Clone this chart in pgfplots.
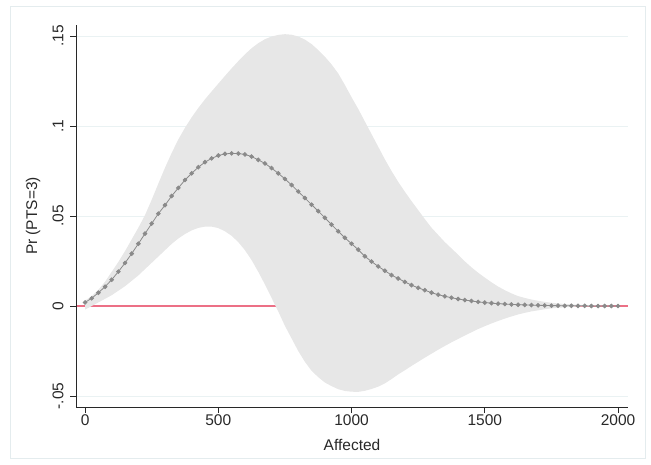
\documentclass[border=0pt]{standalone}
\usepackage{fontspec}
\setmainfont{Liberation Sans}
\usepackage{pgfplots}
\usepackage{pgfplotstable}
\pgfplotsset{compat=1.18}
\usepgfplotslibrary{fillbetween}

\definecolor{bandgray}{RGB}{231,231,231}
\definecolor{fitgray}{RGB}{138,138,138}
\definecolor{zeroline}{RGB}{236,112,134}
\definecolor{gridc}{RGB}{234,242,243}
\definecolor{framec}{RGB}{228,236,238}
\definecolor{axisc}{RGB}{40,40,40}

% x = affected, p = predicted Pr(PTS=3), lo/hi = confidence band
\pgfplotstableread{
x     p       lo       hi
0     0.0020  -0.0020  0.0030
25    0.0043  0.0000   0.0055
50    0.0074  0.0020   0.0090
75    0.0107  0.0040   0.0135
100   0.0146  0.0060   0.0190
125   0.0191  0.0085   0.0245
150   0.0239  0.0110   0.0305
175   0.0291  0.0140   0.0370
200   0.0346  0.0170   0.0435
225   0.0402  0.0205   0.0505
250   0.0458  0.0240   0.0590
275   0.0513  0.0275   0.0680
300   0.0560  0.0310   0.0768
325   0.0611  0.0345   0.0850
350   0.0656  0.0375   0.0925
375   0.0700  0.0400   0.0990
400   0.0737  0.0420   0.1048
425   0.0771  0.0434   0.1100
450   0.0799  0.0441   0.1148
475   0.0820  0.0441   0.1192
500   0.0836  0.0433   0.1235
525   0.0845  0.0415   0.1278
550   0.0848  0.0390   0.1320
575   0.0847  0.0355   0.1360
600   0.0842  0.0310   0.1398
625   0.0830  0.0255   0.1432
650   0.0812  0.0190   0.1460
675   0.0792  0.0120   0.1482
700   0.0766  0.0045   0.1497
725   0.0737  -0.0030  0.1506
750   0.0706  -0.0110  0.1510
775   0.0672  -0.0180  0.1507
800   0.0636  -0.0250  0.1497
825   0.0600  -0.0310  0.1480
850   0.0563  -0.0360  0.1455
875   0.0527  -0.0395  0.1422
900   0.0490  -0.0425  0.1385
925   0.0452  -0.0445  0.1342
950   0.0415  -0.0462  0.1292
975   0.0379  -0.0472  0.1228
1000  0.0346  -0.0476  0.1160
1025  0.0313  -0.0477  0.1095
1050  0.0276  -0.0471  0.1025
1075  0.0247  -0.0461  0.0955
1100  0.0220  -0.0448  0.0885
1125  0.0196  -0.0430  0.0815
1150  0.0172  -0.0406  0.0750
1175  0.0153  -0.0380  0.0690
1200  0.0134  -0.0357  0.0635
1225  0.0116  -0.0333  0.0583
1250  0.0101  -0.0310  0.0533
1275  0.0088  -0.0287  0.0483
1300  0.0074  -0.0265  0.0435
1325  0.0063  -0.0243  0.0395
1350  0.0054  -0.0222  0.0355
1375  0.0046  -0.0202  0.0320
1400  0.0039  -0.0183  0.0285
1425  0.0033  -0.0164  0.0248
1450  0.0028  -0.0146  0.0215
1475  0.0023  -0.0128  0.0185
1500  0.0019  -0.0112  0.0158
1525  0.0016  -0.0097  0.0132
1550  0.0013  -0.0083  0.0108
1575  0.0011  -0.0070  0.0088
1600  0.0009  -0.0058  0.0070
1625  0.0007  -0.0047  0.0055
1650  0.0006  -0.0038  0.0045
1675  0.0005  -0.0030  0.0036
1700  0.0004  -0.0024  0.0029
1725  0.0003  -0.0018  0.0023
1750  0.0002  -0.0013  0.0018
1775  0.0002  -0.0010  0.0014
1800  0.0001  -0.0007  0.0011
1825  0.0001  -0.0005  0.0009
1850  0.0001  -0.0003  0.0007
1875  0.0001  -0.0002  0.0005
1900  0.0000  -0.0001  0.0004
1925  0.0000  -0.0001  0.0003
1950  0.0000  0.0000   0.0002
1975  0.0000  0.0000   0.0001
2000  0.0000  0.0000   0.0001
}\pts

\begin{document}
\begin{tikzpicture}
\begin{axis}[
  set layers,
  at={(76pt,57pt)}, anchor=south west,
  scale only axis, width=552pt, height=382pt,
  xmin=-34, xmax=2037.5, ymin=-0.0561, ymax=0.1561,
  axis x line=bottom, axis y line=left,
  axis line style={-, axisc, line width=0.8pt},
  tick align=outside, major tick length=6pt,
  tick style={axisc, line width=0.8pt},
  xtick={0,500,1000,1500,2000}, xticklabels={0,500,1000,1500,2000},
  ytick={-0.05,0,0.05,0.1,0.15}, yticklabels={-.05,0,.05,.1,.15},
  yticklabel style={rotate=90, anchor=south, yshift=3pt},
  xticklabel style={yshift=2pt},
  ymajorgrids, major grid style={gridc, line width=0.8pt},
  tick label style={font=\fontsize{15.5}{18}\selectfont, text=axisc},
  xlabel={Affected}, ylabel={Pr (PTS=3)},
  every axis x label/.style={at={(axis description cs:0.5,0)}, anchor=center,
    yshift=-38pt, font=\fontsize{15.5}{18}\selectfont, text=axisc},
  every axis y label/.style={at={(axis description cs:-0.0779,0.5)}, rotate=90, anchor=center,
    font=\fontsize{15.5}{18}\selectfont, text=axisc},
]
\addplot[zeroline, line width=1.5pt, forget plot, on layer=axis grid] coordinates {(-34,0) (2037.5,0)};
\addplot[draw=none, name path=up, forget plot] table[x=x, y=hi] {\pts};
\addplot[draw=none, name path=dn, forget plot] table[x=x, y=lo] {\pts};
\addplot[bandgray, forget plot] fill between[of=up and dn];
\addplot[fitgray, line width=0.8pt, mark=*, mark size=1.9pt, mark options={fitgray}] table[x=x, y=p] {\pts};
\end{axis}
\draw[framec, line width=1pt] (10pt,6pt) rectangle (645pt,457pt);
\path (0pt,0pt) rectangle (651pt,464pt);
\end{tikzpicture}
\end{document}
